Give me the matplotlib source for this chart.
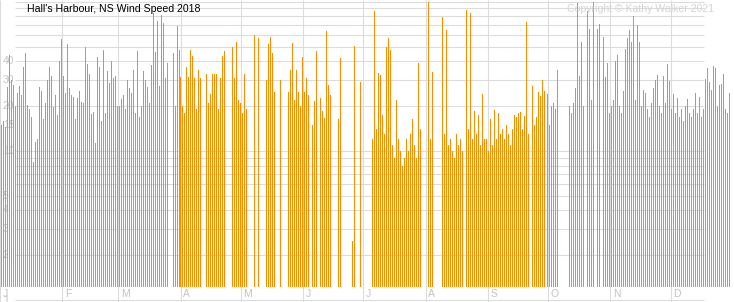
import numpy as np
import matplotlib
matplotlib.use("Agg")
import matplotlib.pyplot as plt

N = np.nan
# daily wind speed 2018 (log scale), NaN = no reading
jan = [15, 16, 14.5, 26.8, 44, 29.8, 27.6, 20, 24.4, 27.2, 23.7, 36.5, 45, 20.3, 19, 16.9,
       8.4, 11.5, 12, 26.8, 25.2, 16.4, 21, 29.8, 36.5, 31.7, 19.8, 23.7, 17.4, 40, 56]
feb = [32, 24.4, 52, 26.4, 23.7, 23, 16.4, 22.6, 25.2, 21.3, 21, 49.7, 38, 33, 17.7, 18.2,
       11.3, 42.6, 36.5, 15.9, 47.4, 18, 34.2, 28.5, 40, 31, 31.7, 20]
mar = [20, 22.3, 23.7, 19, 29.8, 26.4, 24.4, 34.8, 18, 46.6, 17, 20, 34.2, 29.8, 26.8, 21,
       37.6, 83.6, 46, 74, 27.2, 81, 72, 30.8, 38.8, N, N, 45.2, 20, 68.5, 47.4]
apr = [31.2, 20, 18, 36.5, 31.2, 47.4, 43, 31, 19, 35, 31, N, N, 33, 21, 24, 33, 33, 33,
       19, 31, 43, 47, N, N, N, 50, 31, 54, 22]
may = [21, 18, 33, 19, N, N, N, 60, N, 57, N, N, N, 30, 52, 58, 45, 25, N, N, 30, N, N, N,
       25, 35, 53, 22, 35, 25, 20]
jun = [42.6, 24.8, 30.8, 23.7, N, 15, 21.6, 46.6, N, 22.6, 18.5, 16.6, 63.5, 27.6, 23.7,
       N, N, N, 16.4, 41.9, N, N, N, N, N, 2.5, 50.4, N, N, 28.9]
jul = [N, N, N, N, N, 12, 86, 14, 33.2, 32.2, 17.4, 13, 49.7, 57, 47.4, 11, 9, 22, 12, 10,
       8, 9, 12, 10, 13, 16.4, 11, 9, 38.8, 14, N]
aug = [N, N, 100, 12, 34, N, N, N, N, 79, 13, 65, 11, 12, 10, 9, 13, 11, 12, 10, N, 88, 14,
       84, 12, 18.5, 13, 17.4, 11, 24, 12]
sep = [12, 10, 16.4, 11, 18.8, 12, 18, 13, 14, 12, 15, 13, 11, 14, 17.4, 16.9, 18, 18.2,
       14, 17.1, 73, 13, N, 27.2, 15, 17, 24.8, 23.3, 29.8, 25.2]
oct_ = [24.1, 15, 20, 21, 19, 34.8, N, N, N, N, N, 20, 18, 21, 26.4, 98, 31.7, 53.4, 20, N,
        86, 65.5, 22, 100, N, 65.5, 70.7, N, 58, 31.2, 38.8]
nov = [18, 20, 22, 40, 44, 20, 18, 25.2, 48, 57, 64.5, 53.5, 80, 22, 69.6, 53.5, 20, 25.6,
       24.4, 19, 17, 21, 26.4, 29.8, 32.2, 20, 18, 31.7, 21, 38]
dec = [29.4, 19, 24, 18, 22.6, 17, 19, 16, 20, 22.3, 18, 17, 19, 24.4, 18, 23, 17, 19,
       30.3, 35.9, 28.9, 25.6, 37, 35.9, 20, 27.6, 28, 32.8, 19, 18, 24.4]

month_data = [jan, feb, mar, apr, may, jun, jul, aug, sep, oct_, nov, dec]
month_labels = ["J", "F", "M", "A", "M", "J", "J", "A", "S", "O", "N", "D"]
season_months = [3, 4, 5, 6, 7, 8]          # Apr..Sep series
y_labels = [1, 2, 3, 4, 5, 10, 15, 20, 30, 40]
grid_vals = list(range(1, 10)) + list(range(10, 101, 10))

ORANGE = "#FF8C00"
GRID = "#DCDCDC"
LBL = "#C4C4C4"
BASE = 1.23
YLIM = (0.977, 102.4)
FONT = "Liberation Sans"

fig = plt.figure(figsize=(7.34, 3.02), dpi=100)
fig.patch.set_facecolor("white")

# background axes: grid + labels
axg = fig.add_axes([0, 0, 1, 1], zorder=0)
axg.set_yscale("log")
axg.set_xlim(0.1, 365.5)
axg.set_ylim(*YLIM)
axg.axis("off")

# bar axes on top, 2 px per day
ax = fig.add_axes([0, 0, 1, 1], zorder=1)
ax.patch.set_visible(False)
ax.set_yscale("log")
ax.set_xlim(0, 367)
ax.set_ylim(*YLIM)
ax.axis("off")

axg.hlines(grid_vals, 7.57, 350.5, color=GRID, lw=0.8)
starts = np.cumsum([0] + [len(m) for m in month_data[:-1]])
axg.vlines(starts, *YLIM, color=GRID, lw=0.8)

for v in y_labels:
    axg.text(1.5, v, str(v), color=LBL, fontsize=7.5, va="center", ha="left", family=FONT)
for s, lab in zip(starts, month_labels):
    axg.text(s + 1.3, 1.11, lab, color=LBL, fontsize=7.5, va="center", ha="left",
             family=FONT)

# bars: two series, the Apr-Sep one sits half a slot to the left
day = 0
for mi, vals in enumerate(month_data):
    vals = np.array(vals, dtype=float)
    shift = 0.25 if mi in season_months else 0.75
    x = day + np.arange(len(vals)) + shift
    ok = ~np.isnan(vals)
    ax.bar(x[ok], vals[ok] - BASE, bottom=BASE, width=0.5, color=ORANGE,
           linewidth=0, antialiased=False)
    day += len(vals)

fig.text(27 / 734, 1 - 9 / 302, "Hall's Harbour, NS Wind Speed 2018", fontsize=7.6,
         family=FONT, va="center", ha="left", color="black")
fig.text(567 / 734, 1 - 9 / 302, "Copyright \u00a9 Kathy Walker 2021", fontsize=7.6,
         family=FONT, va="center", ha="left", color="#D4D4D4")

fig.savefig("out.png", dpi=100, facecolor="white")
